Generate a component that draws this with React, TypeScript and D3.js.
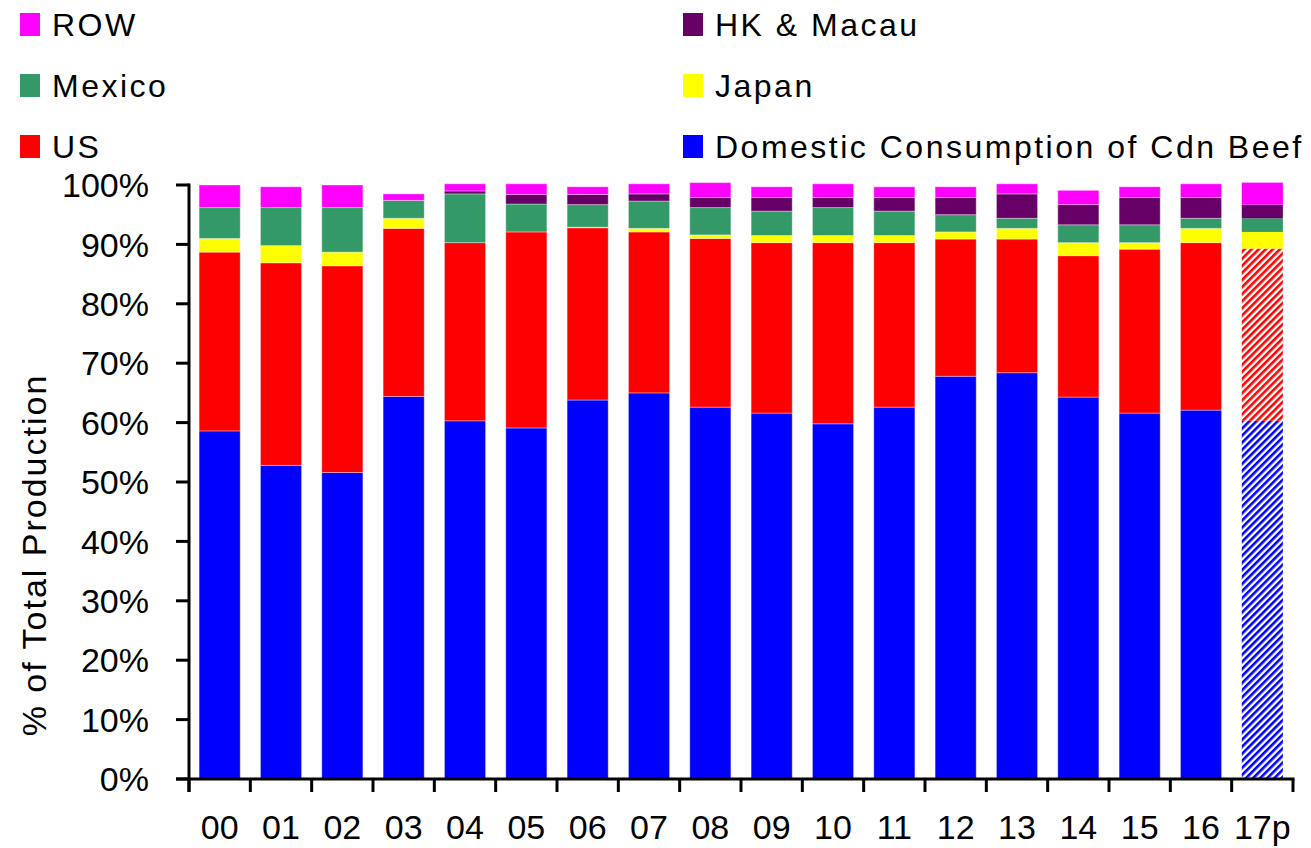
import React, { useEffect, useRef } from 'react';
import * as d3 from 'd3';

// Years on the x axis
const categories = ['00', '01', '02', '03', '04', '05', '06', '07', '08', '09', '10', '11', '12', '13', '14', '15', '16', '17p'];

// Share of total production (%)
const domestic = [58.6, 52.8, 51.6, 64.4, 60.3, 59.1, 63.8, 65.0, 62.6, 61.6, 59.8, 62.6, 67.8, 68.4, 64.3, 61.6, 62.1, 60.3];
const us = [30.1, 34.1, 34.8, 28.3, 30.0, 33.0, 29.0, 27.1, 28.4, 28.7, 30.5, 27.7, 23.1, 22.5, 23.8, 27.6, 28.2, 29.0];
const japan = [2.3, 2.9, 2.3, 1.7, 0, 0, 0.1, 0.6, 0.6, 1.2, 1.2, 1.2, 1.2, 1.8, 2.2, 1.1, 2.4, 2.8];
const mexico = [5.2, 6.4, 7.5, 3.0, 8.2, 4.7, 3.8, 4.6, 4.6, 4.1, 4.7, 4.1, 2.9, 1.7, 3.0, 3.0, 1.7, 2.3];
const hkMacau = [0, 0, 0, 0, 0.5, 1.6, 1.7, 1.2, 1.7, 2.3, 1.7, 2.3, 2.9, 4.1, 3.4, 4.6, 3.5, 2.3];
const row = [3.8, 3.5, 3.8, 1.1, 1.2, 1.8, 1.3, 1.7, 2.5, 1.8, 2.3, 1.8, 1.8, 1.7, 2.4, 1.8, 2.3, 3.7];

const yTicks = [0, 10, 20, 30, 40, 50, 60, 70, 80, 90, 100];

// stacking order, bottom to top
const seriesKeys = ['domestic', 'us', 'japan', 'mexico', 'hk', 'row'];
const seriesValues: Record<string, number[]> = { domestic, us, japan, mexico, hk: hkMacau, row };
const seriesColors: Record<string, string> = {
  domestic: '#0000ff',
  us: '#ff0000',
  japan: '#ffff00',
  mexico: '#339966',
  hk: '#660066',
  row: '#ff00ff',
};

// legend: [key, label] in reading order (left column, right column)
const legendItems: [string, string][] = [
  ['row', 'ROW'], ['hk', 'HK & Macau'],
  ['mexico', 'Mexico'], ['japan', 'Japan'],
  ['us', 'US'], ['domestic', 'Domestic Consumption of Cdn Beef'],
];

const projected = '17p';

const App = () => {
  const svgRef = useRef<SVGSVGElement | null>(null);

  useEffect(() => {
    if (!svgRef.current) return;
    const width = 1311;
    const height = 848;
    const font = "'Liberation Sans', Arial, sans-serif";

    const svg = d3.select(svgRef.current);
    svg.attr('width', width).attr('height', height);
    svg.selectAll('*').remove();

    const plot = { left: 189, right: 1293, top: 185, bottom: 779 };

    const x = d3.scaleBand<string>()
      .domain(categories)
      .range([plot.left, plot.right])
      .paddingInner(0.33)
      .paddingOuter(0.165);

    const y = d3.scaleLinear().domain([0, 100]).range([plot.bottom, plot.top]);

    // hatch patterns for the projected year
    const defs = svg.append('defs');
    ['domestic', 'us'].forEach(k => {
      const p = defs.append('pattern')
        .attr('id', `hatch-${k}`)
        .attr('patternUnits', 'userSpaceOnUse')
        .attr('width', 5)
        .attr('height', 5)
        .attr('patternTransform', 'rotate(45)');
      p.append('rect').attr('width', 5).attr('height', 5).attr('fill', '#ffffff');
      p.append('rect').attr('width', 2.6).attr('height', 5).attr('fill', seriesColors[k]);
    });

    const table = categories.map((c, i) => {
      const o: any = { cat: c };
      seriesKeys.forEach(k => { o[k] = seriesValues[k][i]; });
      return o;
    });

    const stacked = d3.stack<any>().keys(seriesKeys)(table);

    stacked.forEach(layer => {
      const key = layer.key;
      svg.append('g')
        .selectAll('rect')
        .data(layer)
        .enter().append('rect')
        .attr('x', d => x(d.data.cat)!)
        .attr('width', x.bandwidth())
        .attr('y', d => y(d[1]))
        .attr('height', d => Math.max(0, y(d[0]) - y(d[1])))
        .attr('fill', d => (d.data.cat === projected && (key === 'domestic' || key === 'us'))
          ? `url(#hatch-${key})` : seriesColors[key])
        .attr('stroke', d => d.data.cat === projected ? 'none' : 'rgba(255,255,255,0.35)')
        .attr('stroke-width', 1);
    });

    // axes
    const axisColor = '#000000';
    svg.append('line')
      .attr('x1', plot.left).attr('x2', plot.left)
      .attr('y1', plot.top - 1.5).attr('y2', plot.bottom + 13)
      .attr('stroke', axisColor).attr('stroke-width', 3);
    svg.append('line')
      .attr('x1', plot.left - 13).attr('x2', plot.right + 1.5)
      .attr('y1', plot.bottom).attr('y2', plot.bottom)
      .attr('stroke', axisColor).attr('stroke-width', 3);

    yTicks.forEach(t => {
      svg.append('line')
        .attr('x1', plot.left - 13).attr('x2', plot.left)
        .attr('y1', y(t)).attr('y2', y(t))
        .attr('stroke', axisColor).attr('stroke-width', 3);
      svg.append('text')
        .attr('x', 149)
        .attr('y', y(t))
        .attr('dy', '0.36em')
        .attr('text-anchor', 'end')
        .style('font-family', font)
        .style('font-size', '34px')
        .attr('fill', '#000')
        .text(`${t}%`);
    });

    // x ticks sit on the band boundaries
    const step = x.step();
    d3.range(categories.length + 1).forEach(i => {
      const tx = plot.left + i * step;
      svg.append('line')
        .attr('x1', tx).attr('x2', tx)
        .attr('y1', plot.bottom).attr('y2', plot.bottom + 13)
        .attr('stroke', axisColor).attr('stroke-width', 3);
    });

    categories.forEach(c => {
      svg.append('text')
        .attr('x', x(c)! + x.bandwidth() / 2)
        .attr('y', 839)
        .attr('text-anchor', 'middle')
        .style('font-family', font)
        .style('font-size', '34px')
        .attr('fill', '#000')
        .text(c);
    });

    // y axis title
    svg.append('text')
      .attr('transform', `translate(46, ${(plot.top + plot.bottom) / 2 + 73}) rotate(-90)`)
      .attr('text-anchor', 'middle')
      .style('font-family', font)
      .style('font-size', '34px')
      .style('letter-spacing', '2px')
      .attr('fill', '#000')
      .text('% of Total Production');

    // legend
    legendItems.forEach(([key, label], i) => {
      const col = i % 2;
      const r = Math.floor(i / 2);
      const lx = col === 0 ? 20 : 683;
      const cy = 24.5 + r * 61;
      svg.append('rect')
        .attr('x', lx).attr('y', cy - 11.5)
        .attr('width', 20).attr('height', 23)
        .attr('fill', seriesColors[key]);
      svg.append('text')
        .attr('x', lx + 32)
        .attr('y', cy)
        .attr('dy', '0.36em')
        .style('font-family', font)
        .style('font-size', '32px')
        .style('letter-spacing', '2.5px')
        .attr('fill', '#000')
        .text(label);
    });
  }, []);

  return (
    <div style={{ position: 'absolute', left: 0, top: 0 }}>
      <svg ref={svgRef} style={{ display: 'block' }}></svg>
    </div>
  );
};

export default App;
